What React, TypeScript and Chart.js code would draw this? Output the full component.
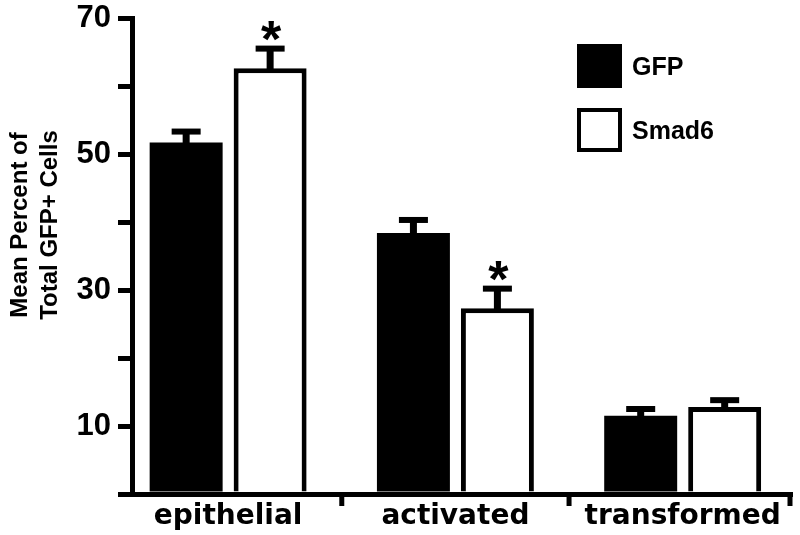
import React, { useEffect, useRef } from 'react';
import { Chart, registerables } from 'chart.js';

Chart.register(...registerables);

// ---- data ----
const categories = ['epithelial', 'activated', 'transformed'];
const seriesNames = ['GFP', 'Smad6'];
const gfpValues = [51.7, 38.4, 11.5];
const gfpErrors = [1.6, 1.9, 1.0];
const smad6Values = [62.6, 27.3, 12.8];
const smad6Errors = [2.9, 2.9, 1.0];
const gfpSignificant = [false, false, false];
const smad6Significant = [true, true, false];
const yLabeledTicks = [10, 30, 50, 70];
const yTitleLines = ['Mean Percent of', 'Total GFP+ Cells'];

const SANS = '"Liberation Sans", Arial, Helvetica, sans-serif';
const XFONT = '"DejaVu Sans", "Liberation Sans", sans-serif';

const decorPlugin = {
  id: 'decor',
  afterDatasetsDraw(chart: any) {
    const { ctx, scales } = chart;
    const y = scales.y;
    ctx.save();
    ctx.fillStyle = '#000';
    chart.data.datasets.forEach((ds: any, di: number) => {
      const meta = chart.getDatasetMeta(di);
      meta.data.forEach((bar: any, i: number) => {
        const v = ds.data[i].y;
        const e = ds.errors[i];
        const top = y.getPixelForValue(v + e);
        ctx.fillRect(bar.x - 3.5, top, 7, bar.y - top + 2);
        ctx.fillRect(bar.x - 14.5, top - 3, 29, 6);
        if (ds.significant[i]) {
          ctx.font = `bold 52px ${SANS}`;
          ctx.textAlign = 'center';
          ctx.textBaseline = 'alphabetic';
          const m = ctx.measureText('*');
          const bottom = top - 3 - 5;
          ctx.fillText('*', bar.x + 1, bottom - m.actualBoundingBoxDescent);
        }
      });
    });
    ctx.restore();
  },
  afterDraw(chart: any) {
    const { ctx, chartArea, scales } = chart;
    const x = scales.x;
    ctx.save();
    ctx.fillStyle = '#000';
    // group boundary tick marks on x-axis
    const marks: number[] = [];
    for (let i = 0; i < categories.length - 1; i++) marks.push(x.getPixelForValue(i + 0.5));
    marks.push(chartArea.right - 2);
    marks.forEach((px) => ctx.fillRect(px - 2.5, chartArea.bottom, 5, 12));

    // y-axis title
    ctx.font = `bold 24px ${SANS}`;
    ctx.textAlign = 'center';
    ctx.textBaseline = 'alphabetic';
    const midY = 225;
    yTitleLines.forEach((line, i) => {
      ctx.save();
      ctx.translate(27 + i * 30, midY);
      ctx.rotate(-Math.PI / 2);
      ctx.fillText(line, 0, 0);
      ctx.restore();
    });

    // legend
    const lx = 577;
    const boxW = 45;
    const boxH = 44;
    const rows = [44, 108];
    chart.data.datasets.forEach((ds: any, di: number) => {
      const ty = rows[di];
      if (ds.borderWidth > 0) {
        ctx.fillStyle = '#fff';
        ctx.fillRect(lx, ty, boxW, boxH);
        ctx.strokeStyle = '#000';
        ctx.lineWidth = 4;
        ctx.strokeRect(lx + 2, ty + 2, boxW - 4, boxH - 4);
      } else {
        ctx.fillStyle = ds.backgroundColor;
        ctx.fillRect(lx, ty, boxW, boxH);
      }
      ctx.fillStyle = '#000';
      ctx.font = `bold 25px ${SANS}`;
      ctx.textAlign = 'left';
      ctx.textBaseline = 'alphabetic';
      ctx.fillText(ds.label, 632, ty + 31);
    });
    ctx.restore();
  },
};

export default function App() {
  const ref = useRef<HTMLCanvasElement | null>(null);

  useEffect(() => {
    document.body.style.margin = '0';
    const canvas = ref.current;
    if (!canvas) return;
    const chart = new Chart(canvas, {
      type: 'bar',
      data: {
        datasets: [
          {
            label: seriesNames[0],
            data: gfpValues.map((v, i) => ({ x: i, y: v })),
            backgroundColor: '#000',
            borderColor: '#000',
            borderWidth: 0,
            categoryPercentage: 0.739,
            barPercentage: 0.869,
            errors: gfpErrors,
            significant: gfpSignificant,
          } as any,
          {
            label: seriesNames[1],
            data: smad6Values.map((v, i) => ({ x: i, y: v })),
            backgroundColor: '#fff',
            borderColor: '#000',
            borderWidth: 5,
            categoryPercentage: 0.739,
            barPercentage: 0.869,
            errors: smad6Errors,
            significant: smad6Significant,
          } as any,
        ],
      },
      options: {
        animation: false,
        responsive: false,
        events: [],
        layout: { padding: { top: 18, right: 8, left: 0, bottom: 0 } },
        plugins: { legend: { display: false }, tooltip: { enabled: false } },
        scales: {
          x: {
            type: 'linear',
            min: -0.423,
            max: 2.481,
            offset: false,
            z: 1,
            afterBuildTicks: (s: any) => {
              s.ticks = categories.map((_, i) => ({ value: i }));
            },
            afterFit: (s: any) => {
              s.height = 41;
              s.paddingLeft = 0;
              s.paddingRight = 0;
            },
            ticks: {
              autoSkip: false,
              maxRotation: 0,
              minRotation: 0,
              padding: 6,
              color: '#000',
              font: { family: XFONT, size: 28, weight: 'bold' },
              callback: (v: any) => categories[v] ?? '',
            },
            grid: { display: true, drawOnChartArea: false, drawTicks: false, offset: false },
            border: { display: true, color: '#000', width: 5 },
          },
          y: {
            min: 0,
            max: 70,
            z: 1,
            afterFit: (s: any) => {
              s.width = 132;
              s.paddingTop = 0;
              s.paddingBottom = 0;
            },
            ticks: {
              stepSize: 10,
              padding: 7,
              color: '#000',
              font: { family: SANS, size: 31, weight: 'bold' },
              callback: (v: any) => (yLabeledTicks.includes(v) ? String(v) : ''),
            },
            grid: {
              drawOnChartArea: false,
              drawTicks: true,
              tickLength: 14,
              tickWidth: 5,
              tickColor: '#000',
              color: '#000',
              lineWidth: 5,
            },
            border: { display: true, color: '#000', width: 5 },
          },
        },
      } as any,
      plugins: [decorPlugin],
    });
    return () => chart.destroy();
  }, []);

  return <canvas ref={ref} width={800} height={535} style={{ display: 'block' }} />;
}
